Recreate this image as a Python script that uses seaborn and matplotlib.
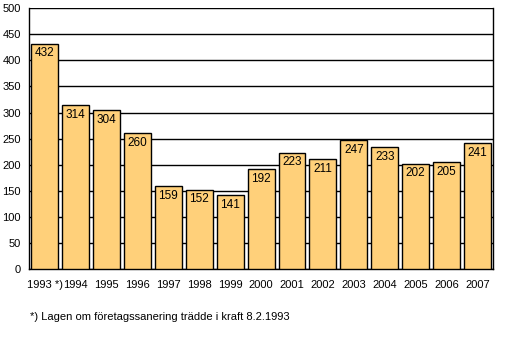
import pandas as pd
import seaborn as sns
import matplotlib.pyplot as plt

years = ['1993 *)', '1994', '1995', '1996', '1997', '1998', '1999', '2000',
         '2001', '2002', '2003', '2004', '2005', '2006', '2007']
counts = [432, 314, 304, 260, 159, 152, 141, 192, 223, 211, 247, 233, 202, 205, 241]

df = pd.DataFrame({'year': years, 'count': counts})

sns.set_style('white')
plt.rcParams['font.family'] = ['Liberation Sans', 'DejaVu Sans']

fig = plt.figure(figsize=(5.19, 3.54), dpi=100)
ax = fig.add_axes([0.056, 0.24, 0.894, 0.737])

sns.barplot(data=df, x='year', y='count', color='#FFD07A', edgecolor='black',
            linewidth=1.0, width=0.87, saturation=1, ax=ax, zorder=3)

ax.set_ylim(0, 500)
ax.set_yticks(range(0, 501, 50))
ax.yaxis.grid(True, color='black', linewidth=1.0, zorder=0)
ax.set_axisbelow(True)
ax.set_xlim(-0.5, len(years) - 0.5)
ax.set_xlabel('')
ax.set_ylabel('')
for side in ['left', 'bottom', 'right']:
    ax.spines[side].set_color('black')
    ax.spines[side].set_linewidth(1.0)
ax.spines['top'].set_visible(False)
ax.tick_params(axis='both', labelsize=8, length=0, colors='black')
ax.tick_params(axis='x', pad=8)
ax.tick_params(axis='y', pad=6)

for i, v in enumerate(counts):
    ax.text(i, v - 7, str(v), ha='center', va='top', fontsize=8.5, color='black', zorder=4)

fig.text(0.058, 0.104, '*) Lagen om företagssanering trädde i kraft 8.2.1993',
         fontsize=8, color='black', ha='left', va='center')

fig.savefig('out.png', dpi=100)
